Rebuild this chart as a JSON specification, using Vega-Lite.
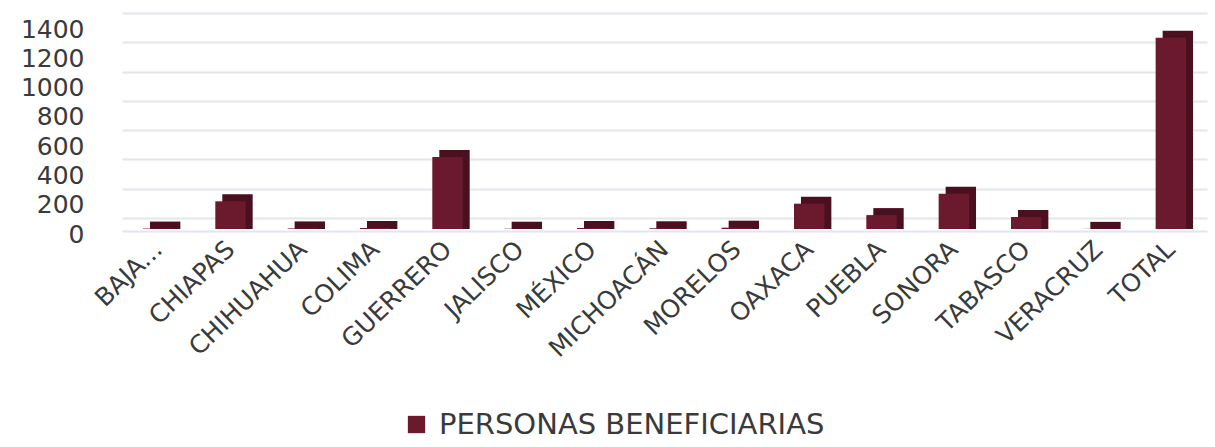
{
  "$schema": "https://vega.github.io/schema/vega-lite/v6.json",
  "width": 1085,
  "height": 205,
  "autosize": {"type": "none"},
  "padding": {"left": 122, "top": 13, "right": 8, "bottom": 229},
  "background": "white",
  "data": {
    "values": [
      {"estado": "BAJA...", "personas": 3},
      {"estado": "CHIAPAS", "personas": 189},
      {"estado": "CHIHUAHUA", "personas": 4},
      {"estado": "COLIMA", "personas": 6},
      {"estado": "GUERRERO", "personas": 491},
      {"estado": "JALISCO", "personas": 2},
      {"estado": "MÉXICO", "personas": 7},
      {"estado": "MICHOACÁN", "personas": 5},
      {"estado": "MORELOS", "personas": 9},
      {"estado": "OAXACA", "personas": 173},
      {"estado": "PUEBLA", "personas": 95},
      {"estado": "SONORA", "personas": 241},
      {"estado": "TABASCO", "personas": 82},
      {"estado": "VERACRUZ", "personas": 1},
      {"estado": "TOTAL", "personas": 1306}
    ]
  },
  "encoding": {
    "x": {
      "field": "estado",
      "type": "nominal",
      "sort": null,
      "scale": {"paddingInner": 0.58, "paddingOuter": 0.29},
      "axis": {
        "title": null,
        "labelAngle": -44,
        "labelAlign": "right",
        "labelBaseline": "middle",
        "labelFont": "DejaVu Sans",
        "labelFontSize": 25,
        "labelColor": "#3a3a3a",
        "labelPadding": 14,
        "labelLimit": 0,
        "ticks": false,
        "domain": true,
        "domainColor": "#e4e6ec",
        "domainWidth": 2,
        "offset": 13,
        "grid": false
      }
    },
    "y": {
      "field": "personas",
      "type": "quantitative",
      "stack": null,
      "scale": {"domain": [0, 1400], "nice": false},
      "axis": {
        "title": null,
        "values": [0, 200, 400, 600, 800, 1000, 1200, 1400],
        "format": "d",
        "labelFont": "DejaVu Sans",
        "labelFontSize": 25,
        "labelColor": "#3a3a3a",
        "labelPadding": 38,
        "labelOffset": 16,
        "ticks": false,
        "domain": false,
        "grid": true,
        "gridColor": "#e4e6ec",
        "gridWidth": 2
      }
    },
    "y2": {"datum": 0}
  },
  "layer": [
    {
      "mark": {"type": "bar", "color": "#4a1020", "xOffset": 7, "x2Offset": 7, "yOffset": 4, "y2Offset": 11}
    },
    {
      "mark": {"type": "bar", "yOffset": 11, "y2Offset": 11},
      "encoding": {
        "color": {
          "datum": "PERSONAS BENEFICIARIAS",
          "scale": {"range": ["#6b1a2e"]},
          "legend": {
            "title": null,
            "orient": "none",
            "legendX": 280,
            "legendY": 397,
            "direction": "horizontal",
            "symbolType": "square",
            "symbolSize": 300,
            "symbolStrokeWidth": 0,
            "labelFont": "DejaVu Sans",
            "labelFontSize": 29,
            "labelLimit": 0,
            "labelOffset": 8,
            "labelColor": "#3a3a3a"
          }
        }
      }
    }
  ],
  "config": {"view": {"stroke": null}}
}
